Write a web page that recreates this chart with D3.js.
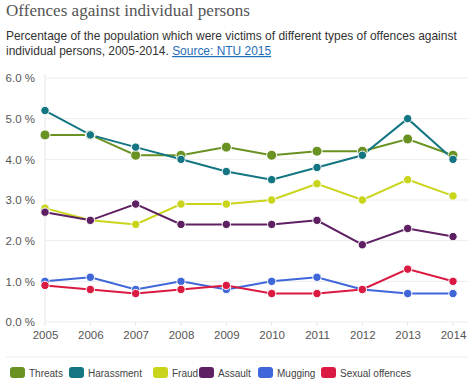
<!DOCTYPE html>
<html><head><meta charset="utf-8">
<script src="https://cdn.jsdelivr.net/npm/d3@7"></script>
<style>
body{margin:0;background:#fff;}
svg{display:block;}
</style></head>
<body>
<svg id="c" width="474" height="381"></svg>
<script>
const years = [2005,2006,2007,2008,2009,2010,2011,2012,2013,2014];
const seriesNames = ["Threats","Harassment","Fraud","Assault","Mugging","Sexual offences"];
const seriesColors = ["#6a9223","#137682","#c9d51b","#5e2063","#3f67d9","#db1a41"];
const threats    = [4.6,4.6,4.1,4.1,4.3,4.1,4.2,4.2,4.5,4.1];
const harassment = [5.2,4.6,4.3,4.0,3.7,3.5,3.8,4.1,5.0,4.0];
const fraud      = [2.8,2.5,2.4,2.9,2.9,3.0,3.4,3.0,3.5,3.1];
const assault    = [2.7,2.5,2.9,2.4,2.4,2.4,2.5,1.9,2.3,2.1];
const mugging    = [1.0,1.1,0.8,1.0,0.8,1.0,1.1,0.8,0.7,0.7];
const sexual     = [0.9,0.8,0.7,0.8,0.9,0.7,0.7,0.8,1.3,1.0];
const yTicks = [0,1,2,3,4,5,6];
const title = "Offences against individual persons";
const subtitle1 = "Percentage of the population which were victims of different types of offences against";
const subtitle2 = "individual persons, 2005-2014. ";
const sourceText = "Source: NTU 2015";

const values = [threats,harassment,fraud,assault,mugging,sexual];
const svg = d3.select("#c");
const SANS = "Liberation Sans, Arial, Helvetica, sans-serif";

function fit(sel, target){
  const fs = parseFloat(sel.attr("font-size"));
  const w = sel.node().getComputedTextLength();
  sel.attr("font-size", fs*target/w);
}

const t = svg.append("text").attr("x",6).attr("y",16).text(title)
  .attr("font-family","Liberation Serif, DejaVu Serif, serif").attr("font-size",18).attr("fill","#555");
fit(t,244);
const s1 = svg.append("text").attr("x",6).attr("y",40).text(subtitle1)
  .attr("font-family",SANS).attr("font-size",13).attr("fill","#333");
fit(s1,451);
const fs1 = s1.attr("font-size");
const st = svg.append("text").attr("x",6).attr("y",55)
  .attr("font-family",SANS).attr("font-size",fs1).attr("fill","#333");
st.append("tspan").text(subtitle2);
st.append("tspan").text(sourceText).attr("fill","#1f6eb8").attr("text-decoration","underline");

const x = d3.scaleLinear().domain([2005,2014]).range([45,453]);
const y = d3.scaleLinear().domain([0,6]).range([322,78]);

// grid
svg.append("g").selectAll("line").data(yTicks).join("line")
  .attr("x1",45).attr("x2",468).attr("y1",d=>y(d)).attr("y2",d=>y(d))
  .attr("stroke","#ededed").attr("stroke-width",1);
// y axis line
svg.append("line").attr("x1",45).attr("x2",45).attr("y1",y(6)-4).attr("y2",y(0))
  .attr("stroke","#e6e6e6");
// x ticks
svg.append("g").selectAll("line").data(years).join("line")
  .attr("x1",d=>x(d)).attr("x2",d=>x(d)).attr("y1",y(0)).attr("y2",y(0)+4).attr("stroke","#e6e6e6");

const yAxis = d3.axisLeft(y).tickValues(yTicks).tickFormat(d=>d3.format(".1f")(d)+" %").tickSize(0).tickPadding(10);
const gy = svg.append("g").attr("transform","translate(45,0)").call(yAxis);
gy.select(".domain").remove();
gy.selectAll("text").attr("font-family",SANS).attr("font-size",11.5).attr("fill","#555");

const xAxis = d3.axisBottom(x).tickValues(years).tickFormat(d3.format("d")).tickSize(0).tickPadding(9);
const gx = svg.append("g").attr("transform",`translate(0,${y(0)})`).call(xAxis);
gx.select(".domain").remove();
gx.selectAll("text").attr("font-family",SANS).attr("font-size",11.5).attr("fill","#555");

const line = d3.line().x((d,i)=>x(years[i])).y(d=>y(d));
values.forEach((vals,si)=>{
  svg.append("path").datum(vals).attr("d",line).attr("fill","none")
    .attr("stroke",seriesColors[si]).attr("stroke-width",2);
});
values.forEach((vals,si)=>{
  svg.append("g").selectAll("circle").data(vals).join("circle")
    .attr("cx",(d,i)=>x(years[i])).attr("cy",d=>y(d))
    .attr("r",si===0?5:4.2).attr("fill",seriesColors[si])
    .attr("stroke","#fff").attr("stroke-width",1);
});

// separator
svg.append("line").attr("x1",6).attr("x2",468).attr("y1",357).attr("y2",357).attr("stroke","#ececec");

// legend
const legendX = [10,69,153,199,258,321];
const lg = svg.append("g");
seriesNames.forEach((n,i)=>{
  lg.append("rect").attr("x",legendX[i]).attr("y",367).attr("width",15).attr("height",11).attr("rx",3)
    .attr("fill",seriesColors[i]);
  lg.append("text").attr("x",legendX[i]+19).attr("y",377).text(n)
    .attr("font-family",SANS).attr("font-size",10).attr("fill","#444");
});
</script>
</body></html>
